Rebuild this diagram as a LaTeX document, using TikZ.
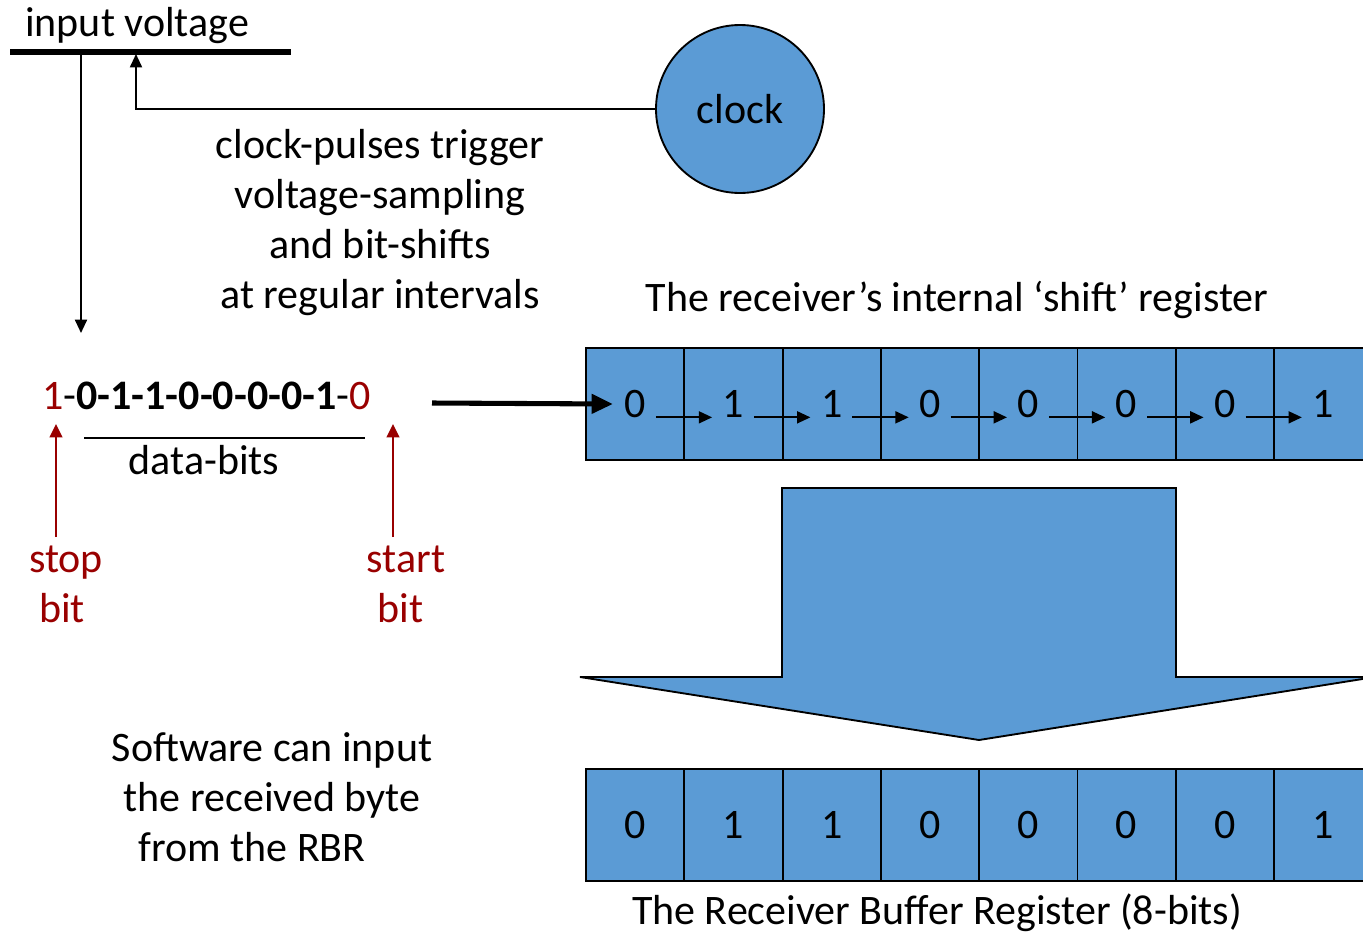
\documentclass[tikz,border=0pt]{standalone}
\usepackage{fontspec}
\setmainfont{Carlito}
\usetikzlibrary{arrows.meta,positioning}
\definecolor{regblue}{HTML}{5B9BD5}
\definecolor{dred}{HTML}{990000}
\tikzset{
  txt/.style={font=\fontsize{31.5}{37.5}\selectfont, inner sep=0pt, align=center},
  cell/.style={draw=black, line width=1.4pt, fill=regblue, minimum width=73.72pt, minimum height=84pt, inner sep=0pt, font=\fontsize{31.5}{37.5}\selectfont},
  thin/.style={line width=1.4pt},
  smallarrow/.style={thin, -{Triangle[length=10pt,width=9pt]}},
  redarrow/.style={dred, line width=1.4pt, -{Triangle[length=10pt,width=9.5pt]}},
}
\begin{document}
\begin{tikzpicture}[x=0.75pt,y=-0.75pt]
\useasboundingbox (0,0) rectangle (1363,936);
% input voltage
\node[txt, anchor=base west] (iv) at (25,36) {input voltage};
\coordinate (ivL) at (10,52);
\coordinate (ivR) at (291,52);
\draw[line width=3.8pt] (ivL) -- (ivR);
\coordinate (sampTop) at (81,53);
\coordinate (sampBot) at (81,333);
\draw[smallarrow] (sampTop) -- (sampBot);
% clock
\node[circle, draw=black, line width=1.4pt, fill=regblue, minimum size=126pt, inner sep=0pt, txt] (clock) at (740,109) {clock};
\coordinate (clkIn) at (136,54);
\draw[smallarrow] (clock.west) -| (clkIn);
\node[txt] (note) at (380,223) {clock-pulses trigger\\voltage-sampling\\and bit-shifts\\at regular intervals};
% bit string
\node[txt, anchor=base west] (bits) at (42,409) {{\color{dred}1}-\textbf{0-1-1-0-0-0-0-1}-{\color{dred}0}};
\coordinate (dbL) at (84,438);
\coordinate (dbR) at (365,438);
\draw[thin] (dbL) -- (dbR);
\node[txt] (db) at (204,460) {data-bits};
\node[txt, text=dred] (stop) at (66,584) {stop\\bit\hspace*{6pt}};
\node[txt, text=dred] (start) at (406,584) {start\\bit\hspace*{8pt}};
\coordinate (stopA) at (56,537);
\coordinate (stopB) at (56,424);
\coordinate (startA) at (393,537);
\coordinate (startB) at (393,424);
\draw[redarrow] (stopA) -- (stopB);
\draw[redarrow] (startA) -- (startB);
% shift register
\node[txt] (srlabel) at (957,300) {The receiver’s internal ‘shift’ register};
\foreach \i/\d in {1/0,2/1,3/1,4/0,5/0,6/0,7/0,8/1} {
  \node[cell] (s\i) at ({586+98.29*(\i-0.5)},404) {\d};
}
\coordinate (inS) at (432,403);
\draw[line width=3.8pt, -{Triangle[length=16pt,width=14pt]}] (inS) -- (s1.west -| 613,0);
\foreach \i in {1,...,7} {
  \pgfmathtruncatemacro{\j}{\i+1}
  \draw[smallarrow] ([xshift=15.5pt,yshift=-10pt]s\i.center) -- ([xshift=-16pt,yshift=-10pt]s\j.center);
}
% big down arrow
\draw[line width=1.4pt, fill=regblue] (782,488) -- (1176,488) -- (1176,677) -- (1375,677) -- (979,740) -- (580,677) -- (782,677) -- cycle;
% RBR
\foreach \i/\d in {1/0,2/1,3/1,4/0,5/0,6/0,7/0,8/1} {
  \node[cell] (r\i) at ({586+98.29*(\i-0.5)},825) {\d};
}
\node[txt] (rbrlabel) at (937,913) {The Receiver Buffer Register (8-bits)};
\node[txt] (sw) at (272,797) {Software can input\\the received byte\\from the RBR\hspace*{30pt}};
\end{tikzpicture}
\end{document}
